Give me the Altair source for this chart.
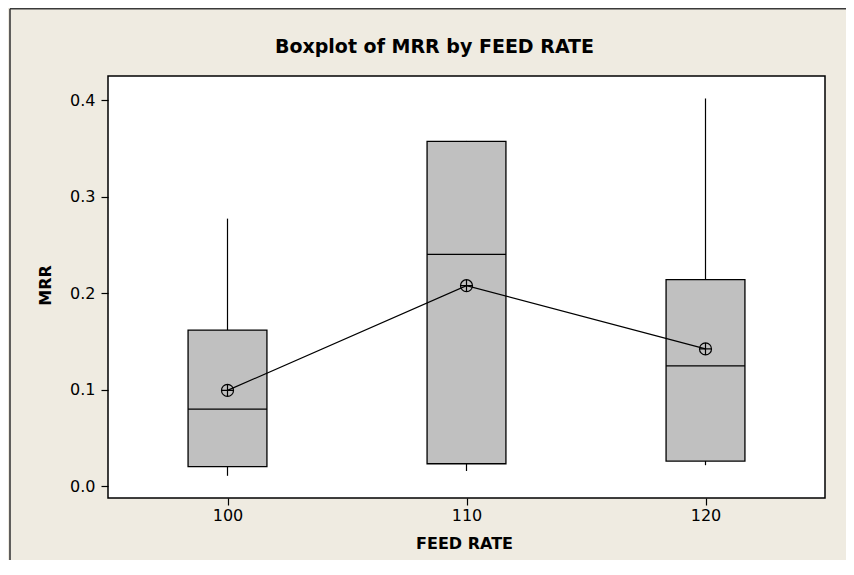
import altair as alt
import pandas as pd

# ---- data ----
feed_rate = [100, 110, 120]
mrr_min = [0.011, 0.016, 0.022]
mrr_q1 = [0.0205, 0.0235, 0.0263]
mrr_median = [0.080, 0.2405, 0.125]
mrr_q3 = [0.162, 0.3576, 0.2143]
mrr_max = [0.2775, 0.358, 0.402]
mrr_mean = [0.0995, 0.208, 0.1425]

title_text = "Boxplot of MRR by FEED RATE"
x_title = "FEED RATE"
y_title = "MRR"
y_ticks = [0.0, 0.1, 0.2, 0.3, 0.4]

BEIGE = "#EFEBE1"
BOX = "#C0C0C0"
FONT = "DejaVu Sans"
W, H = 717, 422
PAD = {"left": 100, "top": 68, "right": 21, "bottom": 62}
HALF = 1.65

df = pd.DataFrame({
    "feed": feed_rate,
    "lo": mrr_min,
    "q1": mrr_q1,
    "med": mrr_median,
    "q3": mrr_q3,
    "hi": mrr_max,
    "mean": mrr_mean,
})
df["left"] = df["feed"] - HALF
df["right"] = df["feed"] + HALF

xscale = alt.Scale(domain=[95, 125], nice=False, zero=False)
yscale = alt.Scale(domain=[-0.012, 0.4253], nice=False, zero=False)

x_axis = alt.Axis(
    values=feed_rate, title=x_title, grid=False, domain=False,
    tickSize=7, tickColor="black", tickWidth=1.2,
    labelPadding=2, labelFontSize=16, labelFont=FONT, labelColor="black",
    titleFont=FONT, titleFontSize=16, titleFontWeight="bold", titleColor="black",
    titleX=356, titleY=45, titleBaseline="middle", titleAlign="center",
)
y_axis = alt.Axis(
    values=y_ticks, format=".1f", title=y_title, grid=False, domain=False,
    tickSize=7, tickColor="black", tickWidth=1.2,
    labelPadding=6, labelFontSize=16, labelFont=FONT, labelColor="black",
    titleFont=FONT, titleFontSize=16, titleFontWeight="bold", titleColor="black",
    titleX=-63, titleY=209, titleBaseline="middle", titleAlign="center", titleAngle=270,
)


def X(field):
    return alt.X(field, scale=xscale, axis=x_axis)


def Y(field):
    return alt.Y(field, scale=yscale, axis=y_axis)


base = alt.Chart(df)

whisk_lo = base.mark_rule(color="black", strokeWidth=1.2).encode(
    x=X("feed:Q"), y=Y("lo:Q"), y2="q1:Q",
)
whisk_hi = base.mark_rule(color="black", strokeWidth=1.2).encode(
    x=X("feed:Q"), y=Y("q3:Q"), y2="hi:Q",
)
box = base.mark_rect(fill=BOX, stroke="black", strokeWidth=1.3).encode(
    x=X("left:Q"), x2="right:Q", y=Y("q1:Q"), y2="q3:Q",
)
median = base.mark_rule(color="black", strokeWidth=1.3).encode(
    x=X("left:Q"), x2="right:Q", y=Y("med:Q"),
)
mean_line = base.mark_line(color="black", strokeWidth=1.2).encode(
    x=X("feed:Q"), y=Y("mean:Q"),
)
mean_pts = base.mark_point(
    shape="M-1,0A1,1,0,1,1,1,0A1,1,0,1,1,-1,0ZM-1,0L1,0M0,-1L0,1",
    size=144, filled=False, stroke="black", strokeWidth=1.2, opacity=1,
).encode(
    x=X("feed:Q"), y=Y("mean:Q"),
)

deco = alt.Chart(pd.DataFrame({"t": [title_text]}))
title = deco.mark_text(
    font=FONT, fontSize=19, fontWeight="bold", color="black",
    align="center", baseline="middle",
).encode(x=alt.value(326.5), y=alt.value(-28.7), text="t:N")
frame_left = deco.mark_rule(color="#3a3a3a", strokeWidth=1.6).encode(
    x=alt.value(-98), y=alt.value(-67.2), y2=alt.value(H + PAD["bottom"])
)
frame_top = deco.mark_rule(color="#3a3a3a", strokeWidth=1.6).encode(
    x=alt.value(-98), x2=alt.value(W + PAD["right"]), y=alt.value(-67.2)
)

chart = alt.layer(
    whisk_lo, whisk_hi, box, median, mean_line, mean_pts, title, frame_left, frame_top
).properties(
    width=W, height=H,
    autosize=alt.AutoSizeParams(type="none"),
    padding=PAD,
    background=BEIGE,
).configure_view(
    stroke="black", strokeWidth=1.5, fill="white"
)

chart.save("out.html", embed_options={"renderer": "svg", "actions": False})
